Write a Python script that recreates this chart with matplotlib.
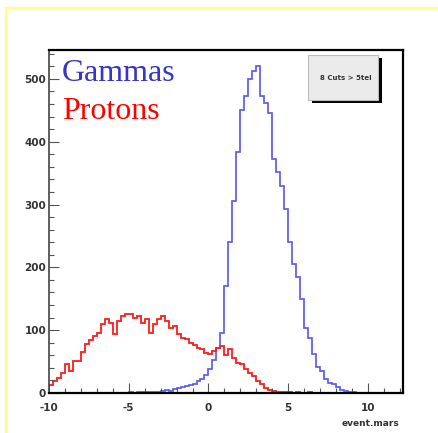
#!/usr/bin/env python3
"""
Gamma / proton separation histogram (event.mars).
"""

import matplotlib
matplotlib.use("Agg")
import matplotlib.pyplot as plt
import numpy as np
from matplotlib.lines import Line2D
from matplotlib.patches import Rectangle
from matplotlib.ticker import MultipleLocator

# Histogram binning: 0.25 wide bins from -10 to 12.25
bin_lo, bin_hi, bin_w = -10.0, 12.25, 0.25

gamma_counts = [
    0, 0, 0, 0, 0, 0, 0, 0, 0, 0, 0, 0, 0, 0, 0, 0, 0, 0, 0, 0,
    1, 0, 1, 2, 1, 2, 1, 2,
    3, 4, 3, 6, 8, 10, 11, 13, 15, 19, 22, 28,
    38, 52, 72, 96, 170, 240, 306, 383, 450, 472, 500, 512,
    520, 472, 462, 445, 372, 352, 330, 293, 240, 205, 184, 150,
    104, 88, 62, 42, 35, 22, 16, 14, 10, 4, 3, 1,
    1, 0, 0, 0, 0, 0, 0, 0, 0, 0, 0, 0, 0,
]

proton_counts = [
    13, 19, 24, 32, 46, 35, 51, 51, 65, 78, 85, 91, 96, 110, 118,
    112, 94, 115, 123, 126, 126, 120, 123, 112, 118, 96, 110, 118, 123, 115,
    104, 107, 94, 88, 86, 80, 77, 72, 70, 64, 62, 67, 72, 75, 60,
    70, 56, 48, 46, 38, 32, 27, 19, 14, 8, 5, 3, 2, 2, 1, 1,
    0, 1, 0, 0, 1, 0, 0, 0, 0, 0, 0, 0, 0, 0,
    0, 0, 0, 0, 0, 0, 0, 0, 0, 0, 0, 0, 0, 0,
]

x_ticks = [-10, -5, 0, 5, 10]
y_ticks = [0, 100, 200, 300, 400, 500]

W, H = 438, 433
fig = plt.figure(figsize=(W / 100, H / 100), dpi=100)
fig.patch.set_facecolor("white")

# light yellow page border
border = "#ffff88"
fig.add_artist(Line2D([6 / W, 6 / W], [0, 1 - 8 / H], color=border, lw=1.6,
                      transform=fig.transFigure))
fig.add_artist(Line2D([6 / W, 1], [1 - 8 / H, 1 - 8 / H], color=border, lw=1.6,
                      transform=fig.transFigure))

ax = fig.add_axes([49 / W, 1 - 393 / H, 354 / W, 343 / H])

edges = np.arange(bin_lo, bin_hi + bin_w / 2, bin_w)
ax.stairs(gamma_counts, edges, color="#5555f0", lw=1.2, baseline=None)
ax.stairs(proton_counts, edges, color="#ff1a1a", lw=1.3, baseline=None)

ax.set_xlim(-10, 12.2)
ax.set_ylim(0, 546)

for s in ax.spines.values():
    s.set_linewidth(1.6)
    s.set_color("black")
ax.spines["left"].set_color("#444444")
ax.spines["left"].set_linewidth(1.2)

tick_font = {"family": ["Liberation Sans Narrow", "DejaVu Sans"],
             "weight": "bold", "size": 7.5}
ax.set_xticks(x_ticks)
ax.set_xticklabels([str(v) for v in x_ticks], fontdict=tick_font, color="#333333")
ax.set_yticks(y_ticks)
ax.set_yticklabels([str(v) for v in y_ticks], fontdict=tick_font, color="#333333")
ax.xaxis.set_minor_locator(MultipleLocator(1))
ax.yaxis.set_minor_locator(MultipleLocator(20))
ax.tick_params(which="major", direction="in", length=7, width=0.8,
               color="#555555")
ax.tick_params(which="minor", direction="in", length=3.5, width=0.8,
               color="#555555")
ax.tick_params(axis="x", which="major", pad=7)
ax.tick_params(axis="y", which="major", pad=2)

fig.text(370 / W, 1 - 424 / H, "event.mars", ha="center", va="center",
         family=["Liberation Sans Narrow", "DejaVu Sans"], weight="bold",
         size=6.5, color="#333333")

serif = ["Liberation Serif", "DejaVu Serif"]
fig.text(62 / W, 1 - 81 / H, "Gammas", family=serif, size=23,
         color="#3535c8", ha="left", va="baseline")
fig.text(62 / W, 1 - 119 / H, "Protons", family=serif, size=23,
         color="#ff0000", ha="left", va="baseline")

# small gray info box with drop shadow
fig.add_artist(Rectangle((312 / W, 1 - 103 / H), 70 / W, 45 / H,
                         transform=fig.transFigure, facecolor="black",
                         edgecolor="none"))
fig.add_artist(Rectangle((308 / W, 1 - 100 / H), 70 / W, 45 / H,
                         transform=fig.transFigure, facecolor="#ebebeb",
                         edgecolor="#bbbbbb", lw=0.8))
fig.text(346 / W, 1 - 78 / H, "8 Cuts > 5tel", ha="center", va="center",
         family=["Liberation Sans Narrow", "DejaVu Sans"], weight="bold",
         size=5, color="#333333")

plt.savefig("out.png", dpi=100, facecolor="white")
plt.close()
